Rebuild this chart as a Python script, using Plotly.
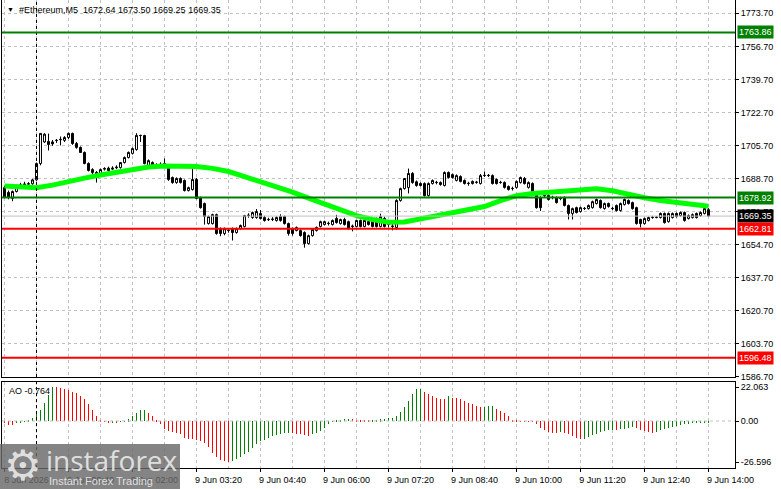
import plotly.graph_objects as go

# ---------------- data ----------------
symbol = "#Ethereum,M5"
bar_index = list(range(-8, 169))  # M5 bars, 0 = 9 Jun 00:00

opens = [
    1684.0, 1681.5, 1678.4, 1682.0, 1684.5, 1685.5, 1685.8, 1686.0, 1688.0, 1696.4,
    1707.5, 1707.8, 1707.5, 1708.2, 1708.6, 1708.3, 1709.8, 1711.9, 1706.7, 1704.7,
    1702.1, 1696.4, 1693.3, 1691.8, 1690.7, 1693.5, 1694.0, 1693.5, 1694.2, 1694.3,
    1696.9, 1699.5, 1701.6, 1703.6, 1710.9, 1710.8, 1695.4, 1696.9, 1695.4, 1695.8,
    1696.0, 1694.5, 1689.2, 1686.6, 1688.7, 1687.7, 1682.5, 1683.0, 1688.2, 1678.9,
    1675.8, 1665.5, 1665.5, 1670.1, 1662.9, 1660.4, 1661.9, 1662.9, 1660.9, 1662.9,
    1664.0, 1669.6, 1668.6, 1668.6, 1670.7, 1668.6, 1667.5, 1667.6, 1667.1, 1669.1,
    1669.1, 1665.5, 1662.9, 1661.9, 1661.9, 1660.9, 1655.2, 1659.3, 1661.9, 1664.0,
    1665.0, 1665.5, 1665.0, 1668.1, 1665.5, 1667.6, 1666.5, 1664.0, 1664.0, 1667.1,
    1664.0, 1666.5, 1666.5, 1668.1, 1664.0, 1668.1, 1665.0, 1664.0, 1663.5, 1677.4,
    1683.5, 1684.0, 1691.3, 1687.0, 1686.1, 1686.1, 1679.9, 1686.1, 1686.6, 1686.6,
    1685.1, 1691.8, 1690.7, 1687.7, 1689.7, 1687.7, 1686.1, 1686.1, 1686.7, 1686.1,
    1690.2, 1690.2, 1690.2, 1688.2, 1686.6, 1686.6, 1684.6, 1683.5, 1684.1, 1686.6,
    1688.7, 1684.1, 1686.1, 1681.5, 1678.9, 1679.9, 1679.9, 1678.9, 1678.9, 1678.4,
    1678.9, 1674.8, 1670.7, 1673.7, 1671.7, 1673.2, 1673.2, 1673.7, 1675.8, 1677.4,
    1673.2, 1675.8, 1673.2, 1674.8, 1672.2, 1675.3, 1677.4, 1676.3, 1673.7, 1667.6,
    1665.5, 1667.1, 1668.6, 1668.6, 1668.6, 1670.7, 1666.5, 1668.6, 1670.7, 1669.6,
    1671.2, 1668.1, 1668.6, 1670.7, 1669.6, 1670.7, 1672.64,
]
highs = [
    1685.0, 1682.5, 1682.5, 1685.5, 1686.5, 1687.0, 1686.8, 1688.5, 1696.8, 1712.0,
    1712.0, 1711.8, 1708.5, 1709.0, 1710.3, 1710.5, 1712.3, 1712.3, 1707.5, 1705.2,
    1702.6, 1697.0, 1694.0, 1692.5, 1693.8, 1694.5, 1694.8, 1695.0, 1695.5, 1697.2,
    1700.0, 1702.6, 1704.7, 1712.0, 1711.2, 1711.2, 1698.5, 1697.5, 1696.5, 1697.0,
    1699.0, 1696.0, 1689.7, 1689.3, 1689.3, 1688.2, 1684.5, 1693.8, 1689.0, 1679.4,
    1676.3, 1669.6, 1670.6, 1670.6, 1663.5, 1663.5, 1663.0, 1663.5, 1663.5, 1665.0,
    1670.0, 1670.8, 1671.7, 1673.0, 1672.5, 1669.5, 1668.5, 1668.8, 1669.2, 1670.3,
    1669.6, 1666.0, 1663.5, 1664.0, 1662.5, 1661.5, 1659.8, 1662.9, 1664.0, 1667.0,
    1667.0, 1666.5, 1667.6, 1670.0, 1668.0, 1668.5, 1667.0, 1665.0, 1667.5, 1667.6,
    1667.6, 1667.0, 1667.0, 1668.6, 1670.6, 1669.0, 1666.0, 1665.5, 1678.0, 1684.0,
    1689.0, 1693.8, 1692.0, 1687.7, 1686.7, 1686.7, 1686.7, 1688.2, 1687.5, 1687.2,
    1692.3, 1692.3, 1691.3, 1690.8, 1690.3, 1688.2, 1687.0, 1687.7, 1687.5, 1691.0,
    1692.3, 1691.0, 1690.8, 1688.7, 1687.5, 1687.2, 1685.1, 1684.5, 1687.7, 1689.7,
    1689.5, 1687.2, 1686.7, 1682.0, 1679.5, 1681.0, 1680.5, 1679.8, 1679.5, 1679.3,
    1679.5, 1675.3, 1673.7, 1674.2, 1674.2, 1674.0, 1675.3, 1677.3, 1678.4, 1677.9,
    1676.3, 1676.3, 1674.0, 1675.3, 1676.3, 1678.4, 1677.9, 1676.8, 1674.2, 1668.0,
    1668.6, 1669.1, 1669.5, 1669.3, 1671.2, 1671.2, 1671.2, 1671.2, 1671.2, 1671.7,
    1671.7, 1670.2, 1670.7, 1671.2, 1671.7, 1673.7, 1673.50,
]
lows = [
    1678.5, 1678.0, 1677.0, 1681.5, 1684.0, 1684.8, 1685.0, 1685.5, 1687.5, 1695.5,
    1707.0, 1703.1, 1705.5, 1707.0, 1705.7, 1707.5, 1709.0, 1706.0, 1704.0, 1701.8,
    1696.0, 1692.3, 1689.5, 1686.6, 1690.2, 1692.8, 1692.5, 1693.0, 1693.5, 1693.8,
    1696.4, 1699.0, 1701.0, 1703.0, 1707.5, 1696.0, 1694.8, 1694.8, 1694.8, 1695.2,
    1695.3, 1687.5, 1686.0, 1686.0, 1686.1, 1682.0, 1682.0, 1682.5, 1678.0, 1673.2,
    1665.0, 1665.0, 1665.0, 1659.8, 1659.0, 1659.5, 1660.8, 1656.8, 1660.3, 1662.4,
    1663.5, 1668.5, 1668.0, 1668.0, 1667.6, 1666.5, 1666.8, 1666.8, 1666.5, 1666.5,
    1665.0, 1659.3, 1659.3, 1661.5, 1658.8, 1653.1, 1654.7, 1658.8, 1661.4, 1663.5,
    1664.5, 1664.5, 1664.5, 1665.5, 1665.0, 1664.5, 1662.4, 1661.5, 1663.5, 1663.5,
    1663.5, 1664.5, 1663.5, 1663.5, 1663.5, 1663.5, 1663.5, 1662.0, 1662.4, 1676.8,
    1683.0, 1681.0, 1686.0, 1684.5, 1684.6, 1679.4, 1679.4, 1685.6, 1685.7, 1685.0,
    1684.6, 1688.7, 1688.7, 1687.2, 1686.7, 1685.6, 1685.0, 1685.6, 1686.0, 1685.6,
    1689.5, 1689.5, 1685.6, 1685.6, 1686.0, 1683.5, 1682.5, 1682.5, 1683.5, 1686.1,
    1685.6, 1683.5, 1681.0, 1673.2, 1672.0, 1679.0, 1677.4, 1678.0, 1675.8, 1677.5,
    1674.3, 1667.6, 1667.6, 1670.7, 1671.2, 1672.5, 1672.7, 1673.2, 1675.3, 1673.2,
    1672.7, 1673.7, 1672.5, 1671.7, 1671.7, 1674.8, 1675.3, 1672.7, 1665.0, 1663.5,
    1665.0, 1666.6, 1668.0, 1668.2, 1668.1, 1665.5, 1666.0, 1668.1, 1668.6, 1669.1,
    1666.5, 1667.6, 1668.1, 1668.1, 1669.1, 1670.2, 1669.25,
]
closes = [
    1679.0, 1679.0, 1682.0, 1684.5, 1685.5, 1685.8, 1686.0, 1688.0, 1696.4, 1711.9,
    1711.5, 1706.2, 1706.5, 1708.3, 1708.8, 1709.8, 1711.9, 1706.7, 1704.7, 1702.1,
    1696.4, 1692.8, 1691.8, 1690.5, 1693.3, 1693.8, 1692.8, 1694.0, 1694.5, 1696.9,
    1699.5, 1702.1, 1704.1, 1710.9, 1710.8, 1696.4, 1697.9, 1695.4, 1695.5, 1696.0,
    1696.3, 1688.2, 1686.6, 1688.7, 1686.6, 1682.5, 1684.0, 1688.2, 1678.4, 1673.7,
    1669.1, 1669.1, 1670.1, 1660.4, 1660.4, 1662.9, 1662.0, 1660.9, 1662.9, 1664.5,
    1669.6, 1669.8, 1671.2, 1671.7, 1668.1, 1667.1, 1667.6, 1667.8, 1668.6, 1667.1,
    1665.5, 1660.4, 1660.4, 1663.5, 1659.3, 1655.2, 1659.3, 1662.4, 1663.5, 1666.5,
    1666.5, 1665.6, 1667.1, 1666.0, 1667.6, 1665.0, 1662.9, 1664.2, 1667.1, 1664.0,
    1667.1, 1665.0, 1664.0, 1664.0, 1669.1, 1664.0, 1665.2, 1664.2, 1677.4, 1683.5,
    1688.7, 1691.3, 1686.6, 1685.1, 1685.1, 1679.9, 1686.1, 1687.7, 1686.7, 1685.6,
    1691.8, 1689.2, 1689.2, 1690.2, 1687.2, 1686.1, 1686.2, 1687.2, 1686.8, 1690.2,
    1690.3, 1690.3, 1686.1, 1686.1, 1686.7, 1684.1, 1683.0, 1683.6, 1687.2, 1689.2,
    1686.1, 1686.6, 1681.5, 1673.7, 1673.7, 1680.0, 1677.9, 1679.0, 1676.3, 1678.5,
    1674.8, 1670.7, 1673.2, 1671.2, 1673.7, 1673.3, 1674.8, 1676.8, 1677.9, 1673.7,
    1675.8, 1674.3, 1673.3, 1672.2, 1675.8, 1677.9, 1675.8, 1673.2, 1665.5, 1665.5,
    1668.1, 1668.6, 1668.7, 1668.8, 1670.7, 1666.0, 1670.7, 1670.7, 1669.1, 1671.2,
    1667.1, 1669.6, 1670.1, 1668.6, 1671.2, 1673.2, 1669.35,
]
# moving average, read on every 4th bar
ma_values = [
    1684.8, 1684.4, 1684.0, 1685.3, 1687.4, 1688.9, 1690.5, 1692.0, 1693.1, 1694.6,
    1695.1, 1695.2, 1694.9, 1693.9, 1692.3, 1689.7, 1687.1, 1684.6, 1681.7, 1678.6,
    1675.8, 1672.8, 1669.6, 1667.6, 1666.2, 1666.3, 1667.8, 1669.4, 1671.2, 1672.7,
    1674.3, 1677.3, 1679.9, 1681.0, 1681.7, 1682.5, 1683.2, 1683.4, 1682.4, 1680.5,
    1678.8, 1677.4, 1676.6, 1675.6, 1674.4,
]
# Awesome Oscillator
ao_values = [
    -0.8, -2.3, -2.8, -1.5, -1.1, -0.6, 0.2, 2.2, 4.3, 7.1,
    11.9, 16.7, 22.063, 21.8, 21.2, 20.6, 20.1, 18.8, 17.9, 16.2,
    14.1, 10.8, 7.1, 3.2, 0.1, -0.6, -1.1, -1.0, -1.2, -0.6,
    -0.1, 1.1, 3.2, 5.0, 7.1, 7.2, 5.4, 3.2, 0.3, -2.1,
    -5.0, -6.5, -7.1, -7.6, -8.7, -10.8, -11.5, -11.8, -12.2, -13.0,
    -14.1, -16.7, -20.6, -23.1, -25.3, -26.2, -26.596, -25.9, -24.9, -23.1,
    -21.6, -20.1, -17.3, -15.1, -13.0, -12.3, -10.8, -9.7, -9.1, -8.2,
    -7.6, -7.5, -7.6, -8.2, -8.7, -9.3, -9.4, -8.7, -7.6, -6.5,
    -4.3, -1.9, -0.6, 0.4, 0.8, 1.3, 1.6, 1.3, 0.2, 0.1,
    0.05, 0.02, 0.1, 0.5, 1.1, 1.5, 1.7, 2.2, 3.2, 5.8,
    9.3, 13.0, 17.3, 20.5, 20.6, 18.8, 17.3, 16.2, 15.1, 14.5,
    14.4, 16.2, 15.1, 15.0, 14.5, 13.0, 11.9, 10.8, 9.7, 9.3,
    9.4, 9.5, 9.6, 7.6, 6.5, 5.0, 3.2, 0.6, 0.05, -0.2,
    -0.3, -0.4, -0.6, -2.2, -4.3, -5.8, -7.1, -7.6, -7.8, -7.1,
    -7.6, -8.7, -9.7, -10.8, -11.9, -11.5, -10.4, -9.3, -8.2, -7.1,
    -6.5, -6.1, -5.8, -6.1, -5.4, -5.0, -4.3, -3.9, -4.5, -5.8,
    -6.8, -7.3, -7.6, -7.0, -6.0, -5.2, -4.5, -3.7, -3.0, -2.5,
    -2.1, -1.9, -1.6, -1.3, -1.1, -0.9, -0.764,
]
levels_green = [1763.86, 1678.92]
levels_red = [1662.81, 1596.48]
price_ticks = [1773.70, 1756.70, 1739.70, 1722.70, 1705.70, 1688.70,
               1671.70, 1654.70, 1637.70, 1620.70, 1603.70, 1586.70]
time_labels = ["8 Jun 2026", "9 Jun 00:40", "9 Jun 02:00", "9 Jun 03:20",
               "9 Jun 04:40", "9 Jun 06:00", "9 Jun 07:20", "9 Jun 08:40",
               "9 Jun 10:00", "9 Jun 11:20", "9 Jun 12:40", "9 Jun 14:00"]
ao_ticks = [22.063, 0.0, -26.596]
ao_tick_text = ["22.063", "0.00", "-26.596"]

# ---------------- figure ----------------
W, H = 781, 489
FONT = "Liberation Sans, Arial, sans-serif"
GREEN_LV = "#008000"
RED_LV = "#FF0000"
GRID = "#C0C0C0"

fig = go.Figure()

fig.add_trace(go.Scatter(
    x=bar_index[::4], y=ma_values, mode="lines",
    line=dict(color="#00FF00", width=5), xaxis="x", yaxis="y",
    hoverinfo="skip", showlegend=False))

fig.add_trace(go.Candlestick(
    x=bar_index, open=opens, high=highs, low=lows, close=closes,
    increasing=dict(fillcolor="white", line=dict(color="black", width=1)),
    decreasing=dict(fillcolor="black", line=dict(color="black", width=1)),
    whiskerwidth=0, xaxis="x", yaxis="y", showlegend=False, hoverinfo="skip"))

ao_colors = ["#008000" if i > 0 and ao_values[i] > ao_values[i - 1] else "#FF0000"
             for i in range(len(ao_values))]
fig.add_trace(go.Bar(
    x=bar_index, y=ao_values, width=0.25,
    marker=dict(color=ao_colors, line=dict(width=0)),
    xaxis="x2", yaxis="y2", showlegend=False, hoverinfo="skip"))

x_left, x_right = 2 / W, 735 / W
main_dom = [1 - 377 / H, 1.0]
ao_dom = [1 - 468 / H, 1 - 382 / H]
xmin = bar_index[0] - 0.625
xmax = xmin + (735 - 2) / 4.0

xgrid = dict(tickvals=bar_index[::8], showgrid=True, gridcolor=GRID,
             griddash="3px,3px", gridwidth=1, ticks="")

fig.update_layout(
    width=W, height=H, margin=dict(l=0, r=0, t=0, b=0),
    paper_bgcolor="white", plot_bgcolor="white",
    showlegend=False, bargap=0,
    font=dict(family=FONT, size=9, color="black"),
    xaxis=dict(domain=[x_left, x_right], range=[xmin, xmax], anchor="y",
               rangeslider=dict(visible=False), showticklabels=False,
               tickvals=bar_index[::16], ticks="", showgrid=True,
               gridcolor=GRID, griddash="3px,3px", minor=xgrid,
               showline=True, mirror=True, linecolor="black", linewidth=1,
               zeroline=False, fixedrange=True),
    yaxis=dict(domain=main_dom, range=[1586.55, 1780.55], anchor="x",
               side="right", tickvals=price_ticks,
               ticktext=[f"{v:.2f}" for v in price_ticks],
               ticks="outside", ticklen=3, tickcolor="black",
               showgrid=True, gridcolor=GRID, griddash="3px,3px",
               showline=True, mirror=True, linecolor="black", linewidth=1,
               zeroline=False, automargin=False,
               tickfont=dict(family=FONT, size=9, color="black")),
    xaxis2=dict(domain=[x_left, x_right], range=[xmin, xmax], anchor="y2",
                tickvals=bar_index[::16], ticktext=time_labels,
                ticks="outside", ticklen=3, tickcolor="black",
                ticklabelshift=22, showgrid=True, gridcolor=GRID,
                griddash="3px,3px", minor=xgrid,
                showline=True, mirror=True, linecolor="black", linewidth=1,
                zeroline=False, automargin=False,
                tickfont=dict(family=FONT, size=9, color="black")),
    yaxis2=dict(domain=ao_dom, range=[-30.49, 25.31], anchor="x2",
                side="right", tickvals=ao_ticks, ticktext=ao_tick_text,
                ticks="outside", ticklen=3, tickcolor="black",
                showgrid=False, zeroline=False,
                showline=True, mirror=True, linecolor="black", linewidth=1,
                automargin=False,
                tickfont=dict(family=FONT, size=9, color="black")),
)

shapes = []
# day separator
for yr in ["y domain", "y2 domain"]:
    shapes.append(dict(type="line", xref="x", yref=yr, x0=bar_index[8], x1=bar_index[8],
                       y0=0, y1=1, line=dict(color="black", width=1, dash="3px,3px")))
# AO zero line
shapes.append(dict(type="line", xref="x2 domain", yref="y2", x0=0, x1=1, y0=0, y1=0,
                   line=dict(color=GRID, width=1, dash="3px,3px")))
# bid line
shapes.append(dict(type="line", xref="x domain", yref="y", x0=0, x1=1,
                   y0=closes[-1], y1=closes[-1], line=dict(color="#C0C0C0", width=1)))
for v in levels_green:
    shapes.append(dict(type="line", xref="x domain", yref="y", x0=0, x1=1, y0=v, y1=v,
                       line=dict(color=GREEN_LV, width=2)))
for v in levels_red:
    shapes.append(dict(type="line", xref="x domain", yref="y", x0=0, x1=1, y0=v, y1=v,
                       line=dict(color=RED_LV, width=2)))
# watermark box
shapes.append(dict(type="rect", xref="paper", yref="paper", x0=0, x1=180 / W,
                   y0=0, y1=(H - 444) / H, fillcolor="rgba(105,105,105,0.82)",
                   line=dict(width=0), layer="above"))
fig.update_layout(shapes=shapes)

ann = []
label_x = 737 / W
for v, c in [(levels_green[0], GREEN_LV), (levels_green[1], GREEN_LV),
             (closes[-1], "black"), (levels_red[0], RED_LV), (levels_red[1], RED_LV)]:
    ann.append(dict(xref="paper", yref="y", x=label_x, y=v, xanchor="left",
                    yanchor="middle", text=f"{v:.2f}", showarrow=False,
                    bgcolor=c, borderpad=1,
                    font=dict(family=FONT, size=9, color="white")))
header = f"{symbol}  {opens[-1]:.2f} {highs[-1]:.2f} {lows[-1]:.2f} {closes[-1]:.2f}"
ann.append(dict(xref="paper", yref="paper", x=5 / W, y=1 - 10 / H, xanchor="left",
                yanchor="middle", text="\u25BC", showarrow=False,
                font=dict(family=FONT, size=7, color="black")))
ann.append(dict(xref="paper", yref="paper", x=17 / W, y=1 - 10 / H, xanchor="left",
                yanchor="middle", text=header, showarrow=False,
                font=dict(family=FONT, size=9, color="black")))
ann.append(dict(xref="paper", yref="paper", x=7 / W, y=1 - 391 / H, xanchor="left",
                yanchor="middle", text=f"AO {ao_values[-1]:.3f}", showarrow=False,
                font=dict(family=FONT, size=9, color="black")))
# watermark texts
ann.append(dict(xref="paper", yref="paper", x=2 / W, y=1 - 465 / H, xanchor="left",
                yanchor="middle", text="\u2699", showarrow=False,
                font=dict(family="DejaVu Sans", size=42, color="rgba(235,235,235,0.9)")))
ann.append(dict(xref="paper", yref="paper", x=44 / W, y=1 - 460 / H, xanchor="left",
                yanchor="middle", text="instaforex", showarrow=False,
                font=dict(family="Open Sans, sans-serif", size=28, color="rgba(235,235,235,0.9)")))
ann.append(dict(xref="paper", yref="paper", x=47 / W, y=1 - 481 / H, xanchor="left",
                yanchor="middle", text="Instant Forex Trading", showarrow=False,
                font=dict(family=FONT, size=11, color="rgba(235,235,235,0.9)")))
fig.update_layout(annotations=ann)

fig.write_html("out.html")
